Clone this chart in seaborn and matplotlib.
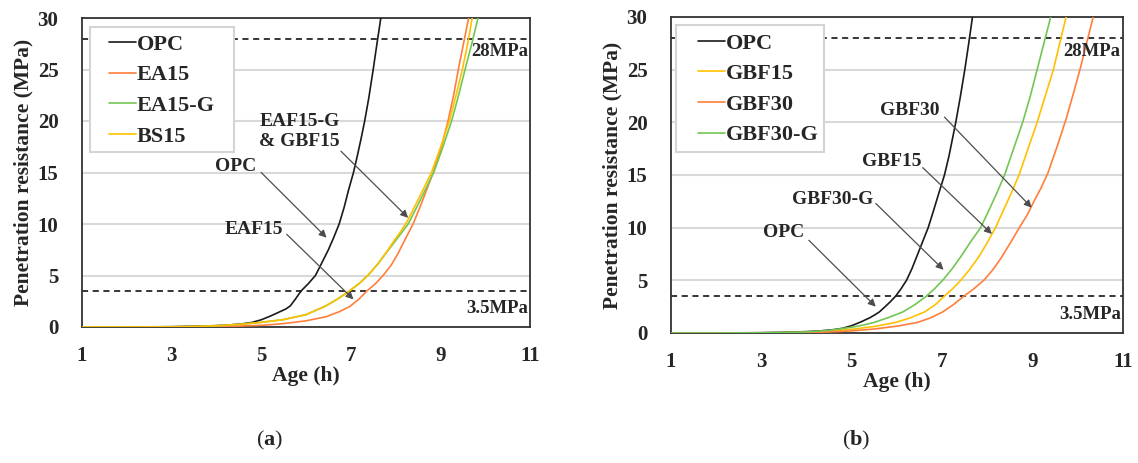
import numpy as np
import pandas as pd
import matplotlib
matplotlib.use("Agg")
import matplotlib.pyplot as plt
import matplotlib.patches as mpatches
import seaborn as sns

# ---------------- data ----------------
# Panel (a)
a_opc_age = [1, 2, 3, 3.5, 4, 4.3, 4.6, 4.8, 5.0, 5.2, 5.4, 5.55, 5.65, 5.77, 5.89, 6.05, 6.21, 6.35, 6.5,
             6.62, 6.74, 6.85, 6.95, 7.06, 7.15, 7.23, 7.31, 7.4, 7.5, 7.58, 7.67]
a_opc_res = [0, 0, 0.03, 0.07, 0.13, 0.2, 0.32, 0.45, 0.7, 1.05, 1.45, 1.75, 2.05, 2.75, 3.5, 4.2, 5.0, 6.2, 7.5,
             8.7, 10, 11.6, 13.3, 15, 16.7, 18.3, 20, 22.2, 25, 27.4, 30]
a_ea15_age = [1, 2, 3, 4, 4.5, 5, 5.5, 6.0, 6.45, 6.75, 6.98, 7.18, 7.36, 7.55, 7.72, 7.9, 8.05, 8.2, 8.39,
              8.55, 8.7, 8.84, 9.0, 9.17, 9.3, 9.4, 9.52, 9.63]
a_ea15_res = [0, 0, 0.01, 0.05, 0.09, 0.16, 0.33, 0.6, 1.0, 1.5, 2.0, 2.7, 3.5, 4.2, 5.0, 6.0, 7.1, 8.4, 10,
              11.7, 13.4, 15, 17.1, 20, 22.6, 25, 27.6, 30]
a_ea15g_age = [1, 2, 3, 3.5, 4, 4.5, 5, 5.5, 6.0, 6.42, 6.7, 6.97, 7.18, 7.38, 7.6, 7.8, 8.02, 8.28, 8.48,
               8.66, 8.85, 9.05, 9.25, 9.4, 9.55, 9.7, 9.84]
a_ea15g_res = [0, 0, 0.02, 0.05, 0.12, 0.25, 0.45, 0.72, 1.2, 2.0, 2.7, 3.5, 4.2, 5.0, 6.1, 7.25, 8.5, 10, 11.7,
               13.3, 15, 17.4, 20, 22.4, 25, 27.5, 30]
a_bs15_age = [1, 2, 3, 3.5, 4, 4.5, 5, 5.5, 6.0, 6.42, 6.7, 6.97, 7.18, 7.38, 7.6, 7.8, 8.0, 8.12, 8.25, 8.45,
              8.62, 8.8, 9.0, 9.2, 9.35, 9.49, 9.6, 9.71]
a_bs15_res = [0, 0, 0.02, 0.05, 0.12, 0.25, 0.45, 0.72, 1.2, 2.0, 2.7, 3.5, 4.2, 5.0, 6.1, 7.3, 8.6, 9.3, 10.2, 11.9,
              13.4, 15, 17.4, 20, 22.5, 25, 27.3, 30]

# Panel (b)
b_opc_age = [1, 2, 3, 3.5, 4, 4.3, 4.6, 4.8, 5.0, 5.2, 5.4, 5.52, 5.61, 5.75, 5.86, 5.97, 6.09, 6.21, 6.33,
             6.45, 6.57, 6.69, 6.8, 6.92, 7.05, 7.15, 7.23, 7.3, 7.4, 7.5, 7.58, 7.67]
b_opc_res = [0, 0, 0.03, 0.07, 0.13, 0.2, 0.32, 0.45, 0.7, 1.05, 1.45, 1.75, 2.0, 2.55, 3.0, 3.5, 4.2, 5.0, 6.1,
             7.4, 8.7, 10, 11.5, 13.2, 15, 16.8, 18.5, 20, 22.4, 25, 27.3, 30]
b_gbf15_age = [1, 2, 3, 3.5, 4, 4.5, 5, 5.5, 5.97, 6.3, 6.61, 6.85, 7.05, 7.23, 7.41, 7.62, 7.82, 8.0, 8.18,
               8.36, 8.53, 8.7, 8.9, 9.1, 9.28, 9.46, 9.6, 9.74]
b_gbf15_res = [0, 0, 0.01, 0.03, 0.07, 0.18, 0.35, 0.62, 1.0, 1.45, 2.0, 2.7, 3.5, 4.2, 5.0, 6.1, 7.3, 8.6, 10,
               11.7, 13.3, 15, 17.5, 20, 22.5, 25, 27.5, 30]
b_gbf30_age = [1, 2, 3, 3.5, 4, 4.5, 5, 5.5, 6.0, 6.45, 6.75, 7.01, 7.25, 7.48, 7.7, 7.92, 8.12, 8.3, 8.5,
               8.72, 8.88, 9.03, 9.19, 9.34, 9.55, 9.74, 9.9, 10.06, 10.2, 10.34]
b_gbf30_res = [0, 0, 0.01, 0.02, 0.04, 0.1, 0.2, 0.38, 0.65, 1.0, 1.45, 2.0, 2.7, 3.5, 4.2, 5.0, 6.0, 7.1, 8.5,
               10.1, 11.2, 12.5, 13.8, 15.2, 17.8, 20.3, 22.7, 25.2, 27.6, 30]
b_gbf30g_age = [1, 2, 3, 3.5, 4, 4.5, 5, 5.25, 5.49, 5.8, 6.13, 6.4, 6.65, 6.83, 7.01, 7.22, 7.42, 7.62, 7.85,
                8.05, 8.22, 8.38, 8.58, 8.78, 8.95, 9.1, 9.25, 9.4]
b_gbf30g_res = [0, 0, 0.02, 0.05, 0.1, 0.25, 0.55, 0.75, 1.0, 1.45, 2.0, 2.7, 3.5, 4.2, 5.0, 6.1, 7.3, 8.6, 10,
                11.8, 13.4, 15, 17.5, 20, 22.5, 25, 27.5, 30]

a_names = ["OPC", "EA15", "EA15-G", "BS15"]
b_names = ["OPC", "GBF15", "GBF30", "GBF30-G"]
thresholds = [28, 3.5]
threshold_labels = ["28MPa", "3.5MPa"]
x_ticks = [1, 3, 5, 7, 9, 11]
y_ticks = [0, 5, 10, 15, 20, 25, 30]

colors = {"OPC": "#1a1a1a", "EA15": "#ff7f3a", "EA15-G": "#72c653", "BS15": "#ffc000",
          "GBF15": "#ffc000", "GBF30": "#ff7f3a", "GBF30-G": "#72c653"}


def frame(names, ages, ress):
    rows = []
    for n, ag, rs in zip(names, ages, ress):
        for x, y in zip(ag, rs):
            rows.append((n, x, y))
    return pd.DataFrame(rows, columns=["Mix", "Age", "Res"])


df_a = frame(a_names, [a_opc_age, a_ea15_age, a_ea15g_age, a_bs15_age],
             [a_opc_res, a_ea15_res, a_ea15g_res, a_bs15_res])
df_b = frame(b_names, [b_opc_age, b_gbf15_age, b_gbf30_age, b_gbf30g_age],
             [b_opc_res, b_gbf15_res, b_gbf30_res, b_gbf30g_res])

# ---------------- style ----------------
sns.set_theme(style="white")
plt.rcParams["font.family"] = ["Liberation Serif", "DejaVu Serif"]
plt.rcParams["font.weight"] = "bold"
plt.rcParams["mathtext.fontset"] = "custom"
plt.rcParams["mathtext.rm"] = "Liberation Serif"
plt.rcParams["mathtext.bf"] = "Liberation Serif:bold"

fig = plt.figure(figsize=(11.38, 4.63), dpi=100)
ax_a = fig.add_axes([82 / 1138, 1 - 327 / 463, 448 / 1138, 309 / 463])
ax_b = fig.add_axes([671 / 1138, 1 - 333 / 463, 452 / 1138, 316 / 463])

arrow_kw = dict(arrowstyle="-|>", color="#4d4d4d", lw=0.9, mutation_scale=11,
                shrinkA=0, shrinkB=0)

annots = {
    "a": [("OPC", (4.44, 15.6), (5.0, 15.0), (6.46, 8.67)),
          ("EAF15", (4.84, 9.47), (5.57, 9.0), (7.06, 2.68)),
          ("EAF15-G\n& GBF15", (5.85, 19.0), (6.78, 17.07), (8.28, 10.6))],
    "b": [("GBF30", (6.29, 21.1), (7.05, 20.5), (8.98, 11.9)),
          ("GBF15", (5.88, 16.3), (6.57, 15.7), (8.10, 9.4)),
          ("GBF30-G", (4.57, 12.7), (5.53, 12.3), (7.03, 6.0)),
          ("OPC", (3.49, 9.5), (4.05, 8.8), (5.53, 2.5))],
}
# legend box (axes fraction): left, bottom, right, top ; legend content anchor
legend_box = {"a": (0.018, 0.566, 0.34, 0.97), "b": (0.011, 0.573, 0.338, 0.975)}
legend_anchor = {"a": (0.06, 0.947), "b": (0.06, 0.949)}

for key, ax, df, names in [("a", ax_a, df_a, a_names), ("b", ax_b, df_b, b_names)]:
    ax.yaxis.grid(True, color="#d9d9d9", lw=1.5, zorder=0)
    ax.xaxis.grid(False)
    sns.lineplot(data=df, x="Age", y="Res", hue="Mix", hue_order=names,
                 palette=colors, sort=False, estimator=None, lw=1.2, ax=ax, zorder=3)
    for t in thresholds:
        ax.axhline(t, color="black", lw=1.1, ls=(0, (4, 3)), zorder=2)
    ax.text(10.95, 26.7, threshold_labels[0], ha="right", va="center", fontsize=13.5, fontweight="bold")
    ax.text(10.95, 1.8, threshold_labels[1], ha="right", va="center", fontsize=13.5, fontweight="bold")

    ax.set_xlim(1, 11)
    ax.set_ylim(0, 30)
    ax.set_xticks(x_ticks)
    ax.set_yticks(y_ticks)
    ax.tick_params(axis="both", length=0, labelsize=15)
    ax.tick_params(axis="x", pad=14)
    ax.tick_params(axis="y", pad=17)
    for lab in ax.get_xticklabels() + ax.get_yticklabels():
        lab.set_fontweight("bold")
    ax.set_xlabel("Age (h)", fontsize=15.5, fontweight="bold", labelpad=0)
    ax.set_ylabel("Penetration resistance (MPa)", fontsize=15.5, fontweight="bold", labelpad=3)
    for sp in ax.spines.values():
        sp.set_color("#333333")
        sp.set_linewidth(1.3)

    for txt, tpos, start, end in annots[key]:
        ax.text(tpos[0], tpos[1], txt, ha="center", va="center", fontsize=14,
                fontweight="bold", linespacing=1.25, zorder=5)
        ax.annotate("", xy=end, xytext=start, arrowprops=arrow_kw, zorder=5)

    l, b, r, t = legend_box[key]
    ax.add_patch(mpatches.Rectangle((l, b), r - l, t - b, transform=ax.transAxes,
                                    facecolor="white", edgecolor="#d4d4d4", lw=1.5,
                                    zorder=5.5))
    leg = ax.legend(loc="upper left", bbox_to_anchor=legend_anchor[key], frameon=False,
                    fontsize=16, handlelength=1.2, handletextpad=0.05,
                    labelspacing=0.45, borderpad=0, borderaxespad=0, title=None)
    leg.set_zorder(6)
    for tx in leg.get_texts():
        tx.set_fontweight("bold")
    for h in leg.get_lines():
        h.set_linewidth(1.2)

fig.text(270 / 1138, 1 - 440 / 463, r"($\mathbf{a}$)", ha="center", va="center", fontsize=16,
         fontweight="normal")
fig.text(856 / 1138, 1 - 440 / 463, r"($\mathbf{b}$)", ha="center", va="center", fontsize=16,
         fontweight="normal")

fig.savefig("out.png", dpi=100, facecolor="white")
